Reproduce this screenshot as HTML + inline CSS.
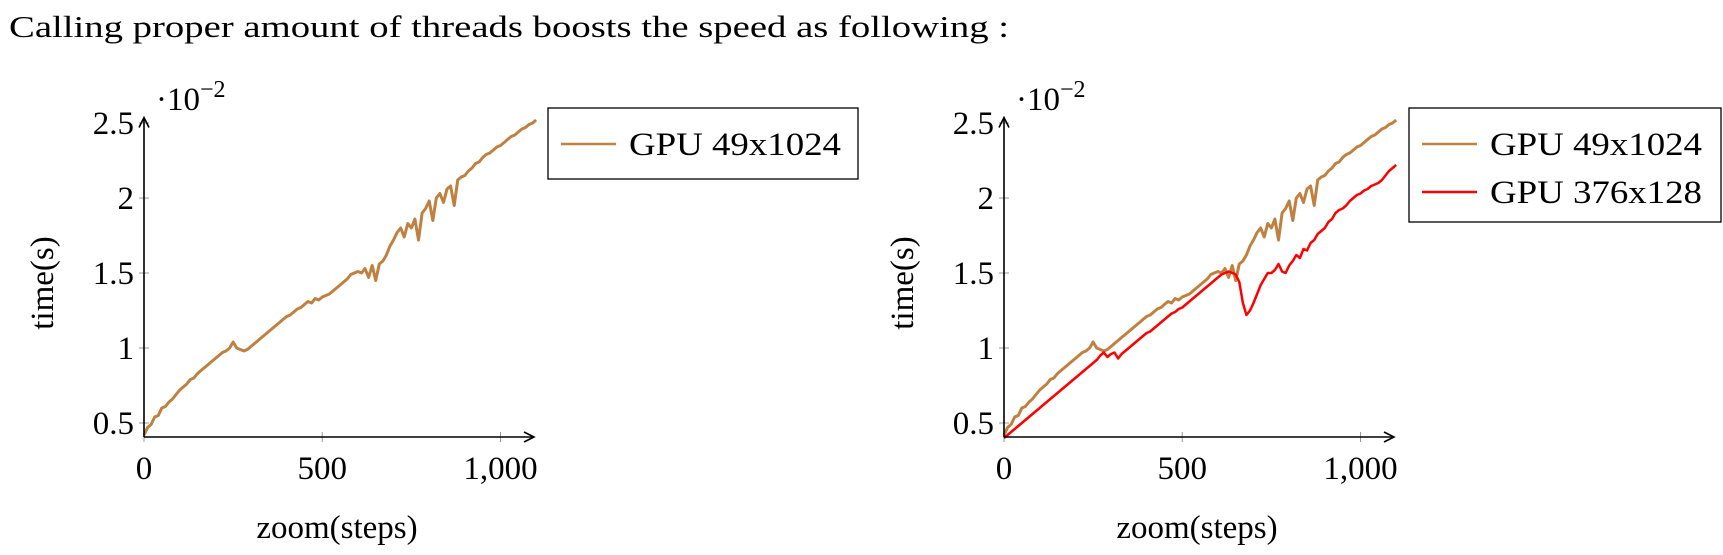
<!DOCTYPE html>
<html><head><meta charset="utf-8"><style>
html,body{margin:0;padding:0;background:#fff;width:1723px;height:555px;overflow:hidden}
svg text{font-family:"Liberation Serif",serif;fill:#000}
</style></head><body>
<svg id="s" width="1723" height="555" xmlns="http://www.w3.org/2000/svg">
<text x="9" y="37" font-size="31" textLength="1000" lengthAdjust="spacingAndGlyphs">Calling proper amount of threads boosts the speed as following :</text>
</svg>
<script>
const xTicks=[0,500,1000];
const xTickLabels=["0","500","1,000"];
const yTicks=[0.5,1,1.5,2,2.5];
const yTickLabels=["0.5","1","1.5","2","2.5"];
const stepsStart=0, stepsStep=10;
const gpu49x1024=[0.42,0.47,0.49,0.54,0.55,0.6,0.61,0.64,0.66,0.69,0.72,0.74,0.76,0.79,0.8,0.83,0.85,0.87,0.89,0.91,0.93,0.95,0.97,0.98,1.0,1.04,1.0,0.99,0.98,0.99,1.01,1.03,1.05,1.07,1.09,1.11,1.13,1.15,1.17,1.19,1.21,1.22,1.24,1.26,1.27,1.29,1.31,1.3,1.33,1.32,1.34,1.35,1.36,1.38,1.4,1.42,1.44,1.46,1.49,1.5,1.51,1.5,1.53,1.47,1.55,1.45,1.56,1.58,1.62,1.68,1.72,1.77,1.8,1.74,1.83,1.8,1.86,1.72,1.9,1.93,1.98,1.85,2.0,2.03,1.97,2.06,2.08,1.95,2.12,2.14,2.15,2.18,2.2,2.23,2.24,2.27,2.29,2.3,2.32,2.34,2.35,2.37,2.39,2.41,2.42,2.44,2.46,2.47,2.49,2.5,2.52];
const gpu376x128=[0.4,0.42,0.44,0.46,0.48,0.5,0.52,0.54,0.56,0.58,0.6,0.62,0.64,0.66,0.68,0.7,0.72,0.74,0.76,0.78,0.8,0.82,0.84,0.86,0.88,0.9,0.92,0.95,0.97,0.94,0.96,0.97,0.93,0.96,0.98,1.0,1.02,1.04,1.06,1.08,1.1,1.11,1.13,1.15,1.17,1.19,1.21,1.23,1.24,1.26,1.27,1.29,1.31,1.33,1.35,1.37,1.39,1.41,1.43,1.45,1.47,1.49,1.5,1.51,1.5,1.49,1.44,1.3,1.22,1.25,1.3,1.36,1.42,1.46,1.5,1.5,1.52,1.56,1.51,1.5,1.55,1.58,1.62,1.6,1.66,1.65,1.7,1.72,1.76,1.78,1.8,1.84,1.86,1.9,1.92,1.93,1.95,1.98,2.0,2.02,2.03,2.05,2.06,2.08,2.09,2.1,2.12,2.15,2.18,2.2,2.22];
const NS="http://www.w3.org/2000/svg";
const svg=document.getElementById('s');
function mk(tag,attrs,parent){const e=document.createElementNS(NS,tag);for(const k in attrs)e.setAttribute(k,attrs[k]);(parent||svg).appendChild(e);return e;}
function chart(x0,series,legend,lx,lw,lh,prefix){
  const g=mk('g',{});
  
  
  const X=v=>x0+v*0.3565, Y=v=>423-(v-0.5)*150, yB=437;
  xTicks.forEach((t,i)=>{
    const l=mk('line',{x1:X(t),x2:X(t),y1:yB-5,y2:yB+5,stroke:'#999','stroke-width':1},g);
    
    const tx=mk('text',{x:X(t),y:yB+42,'font-size':33,'text-anchor':'middle'},g);tx.textContent=xTickLabels[i];
    
  });
  yTicks.forEach((t,i)=>{
    const l=mk('line',{x1:x0-5,x2:x0+5,y1:Y(t),y2:Y(t),stroke:'#999','stroke-width':1},g);
    
    const tx=mk('text',{x:x0-10,y:Y(t)+11,'font-size':33,'text-anchor':'end'},g);tx.textContent=yTickLabels[i];
    
  });
  series.forEach(s=>{
    const pts=s.data.map((v,i)=>X(stepsStart+i*stepsStep).toFixed(1)+','+Y(v).toFixed(1)).join(' ');
    const p=mk('polyline',{points:pts,fill:'none',stroke:s.color,'stroke-width':s.w,'stroke-linejoin':'round'},g);
    
  });
  const ax=mk('path',{d:`M${x0} ${yB}H${x0+388} M${x0} ${yB}V${Y(2.53)}`,stroke:'#000','stroke-width':1.6,fill:'none'},g);
  
  mk('path',{d:`M${x0+380} ${yB-5}L${x0+390} ${yB}L${x0+380} ${yB+5}M${x0-5} ${Y(2.53)+9}L${x0} ${Y(2.53)-1}L${x0+5} ${Y(2.53)+9}`,stroke:'#000','stroke-width':1.6,fill:'none'},g);
  const m=mk('text',{x:x0+12,y:110,'font-size':33},g);m.innerHTML='·10<tspan dy="-13" font-size="24">−2</tspan>';
  
  const yl=mk('text',{x:0,y:0,'font-size':33,'text-anchor':'middle',transform:`translate(${x0-91},283) rotate(-90)`},g);yl.textContent='time(s)';
  
  const xl=mk('text',{x:x0+193,y:538,'font-size':33,'text-anchor':'middle'},g);xl.textContent='zoom(steps)';
  
  const lg=mk('g',{},g);
  
  mk('rect',{x:lx,y:108,width:lw,height:lh,fill:'#fff',stroke:'#000','stroke-width':1.3},lg);
  legend.forEach((s,i)=>{
    const yy=144+i*48;
    mk('line',{x1:lx+13,x2:lx+68,y1:yy,y2:yy,stroke:s.color,'stroke-width':2.5},lg);
    const t=mk('text',{x:lx+81,y:yy+11,'font-size':33,textLength:s.tl,lengthAdjust:'spacingAndGlyphs'},lg);t.textContent=s.label;
    
  });
}
const brown='#bf8040', red='#ff0000';
chart(144,[{data:gpu49x1024,color:brown,w:3,name:'gpu-49x1024-line'}],[{color:brown,label:'GPU 49x1024',tl:212}],548,310,71,'left');
chart(1004,[{data:gpu49x1024,color:brown,w:3,name:'gpu-49x1024-line'},{data:gpu376x128,color:red,w:2.5,name:'gpu-376x128-line'}],[{color:brown,label:'GPU 49x1024',tl:212},{color:red,label:'GPU 376x128',tl:212}],1409,312,114,'right');
</script>
</body></html>
